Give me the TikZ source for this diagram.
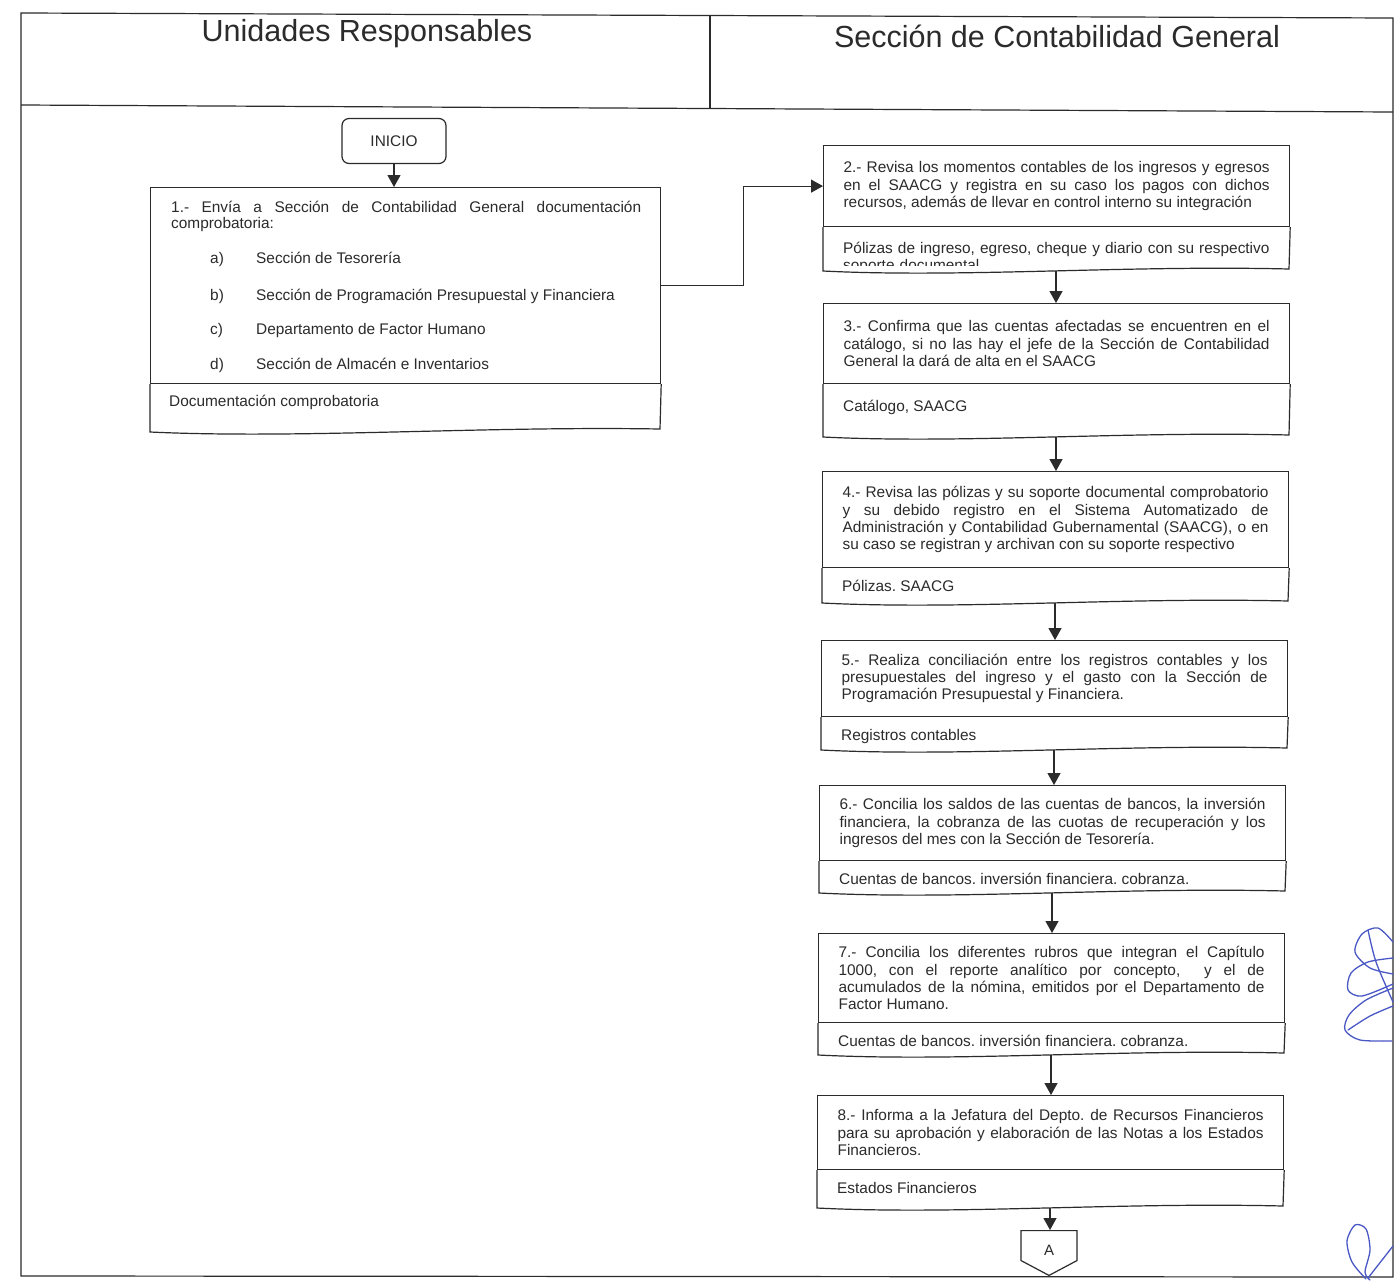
\documentclass[tikz,border=0pt]{standalone}
\usepackage{fontspec}
\setmainfont{Liberation Sans}
\usetikzlibrary{arrows.meta,shapes.symbols}
\definecolor{ink}{HTML}{2B2B2B}
\definecolor{penblue}{HTML}{4A58C6}
\newcommand\bodyfont{\fontsize{15.4}{17.3}\selectfont}
\newcommand\headfont{\fontsize{30.5}{34}\selectfont}
\frenchspacing

\tikzset{
  flowline/.style={draw=ink, line width=1.2pt},
  arrowline/.style={flowline, -{Triangle[width=13pt,length=12pt]}},
  stepbox/.style={draw=ink, line width=1.2pt, rectangle, text width=426pt,
    inner xsep=20pt, inner ysep=4pt, align=justify, font=\bodyfont, text=ink},
  doctext/.style={inner sep=0pt, font=\bodyfont, text=ink},
  headtext/.style={inner sep=0pt, font=\headfont, text=ink},
  signature/.style={draw=penblue, line width=1.3pt, line cap=round, line join=round}
}

% step box with a document-shaped lower part
% [#1] baseline offset of the document text, #2 name, #3 left x, #4 top y,
% #5 divider y, #6 bottom y, #7 step text, #8 document text
\newcommand\flowbox[8][24]{%
  \node[stepbox, minimum height={(#5-#4)*1pt}, anchor=north west] (#2) at (#3,#4) {#7};
  \node[doctext, anchor=base west] (#2d) at ({#3+20},{#5+#1}) {#8};
  \draw[flowline] (#2.south west) -- (#3,#6)
    .. controls ({#3+140},{#6+7}) and ({#3+300},{#6-6}) .. ({#3+466},{#6-2})
    -- (#2.south east);
  \coordinate (#2b) at ({#3+233},#6);
}

\begin{document}
\begin{tikzpicture}[x=1pt, y=-1pt]
\useasboundingbox (0,0) rectangle (1395,1280);
\fill[white] (0,0) rectangle (1395,1280);

% page frame and lane headers
\draw[flowline] (21,13) -- (1393,18) -- (1393,1277) -- (21,1276) -- cycle;
\draw[flowline] (21,105) -- (1393,112);
\draw[flowline] (710,15) -- (710,109);
\node[headtext, anchor=base] (lane1) at (367,41) {Unidades Responsables};
\node[headtext, anchor=base] (lane2) at (1057,47) {Sección de Contabilidad General};

% start
\node[draw=ink, line width=1.2pt, rounded corners=7pt, minimum width=104pt,
  minimum height=45pt, font=\fontsize{15.4}{18}\selectfont, text=ink] (ini) at (394,141) {INICIO};

% step 1
\node[flowline, rectangle, minimum width=510pt, minimum height=196pt,
  anchor=north west, inner sep=0pt] (s1) at (150,187) {};
\node[anchor=north west, text width=470pt, align=justify, inner sep=0pt,
  font=\fontsize{15.4}{15.5}\selectfont, text=ink] (s1t) at (171,201)
  {1.- Envía a Sección de Contabilidad General documentación\linebreak comprobatoria:};
\node[doctext, anchor=base west] (ia) at (210,263) {a)};
\node[doctext, anchor=base west] (ta) at (256,263) {Sección de Tesorería};
\node[doctext, anchor=base west] (ib) at (210,300) {b)};
\node[doctext, anchor=base west] (tb) at (256,300) {Sección de Programación Presupuestal y Financiera};
\node[doctext, anchor=base west] (ic) at (210,334) {c)};
\node[doctext, anchor=base west] (tc) at (256,334) {Departamento de Factor Humano};
\node[doctext, anchor=base west] (id) at (210,369) {d)};
\node[doctext, anchor=base west] (td) at (256,369) {Sección de Almacén e Inventarios};
\node[doctext, anchor=base west] (s1d) at (169,406) {Documentación comprobatoria};
\draw[flowline] (s1.south west) -- (150,432)
  .. controls (300,439) and (480,426) .. (660,429) -- (s1.south east);

% steps 2 to 8
\flowbox{s2}{823}{145}{226}{271}
  {2.- Revisa los momentos contables de los ingresos y egresos\linebreak
   en el SAACG y registra en su caso los pagos con dichos\linebreak
   recursos, además de llevar en control interno su integración}{}
\begin{scope}
  \clip (823,227) rectangle (1289,265);
  \node[doctext, anchor=base west, text width=440pt, align=left] (s2t) at (843,253)
    {Pólizas de ingreso, egreso, cheque y diario con su respectivo\\ soporte documental};
\end{scope}

\flowbox[28]{s3}{823}{303}{383}{437}
  {3.- Confirma que las cuentas afectadas se encuentren en el\linebreak
   catálogo, si no las hay el jefe de la Sección de Contabilidad\linebreak
   General la dará de alta en el SAACG}{Catálogo, SAACG}

\flowbox{s4}{822}{471}{567}{603}
  {4.- Revisa las pólizas y su soporte documental comprobatorio\linebreak
   y su debido registro en el Sistema Automatizado de\linebreak
   Administración y Contabilidad Gubernamental (SAACG), o en\linebreak
   su caso se registran y archivan con su soporte respectivo}{Pólizas. SAACG}

\flowbox{s5}{821}{640}{716}{750}
  {5.- Realiza conciliación entre los registros contables y los\linebreak
   presupuestales del ingreso y el gasto con la Sección de\linebreak
   Programación Presupuestal y Financiera.}{Registros contables}

\flowbox{s6}{819}{785}{860}{893}
  {6.- Concilia los saldos de las cuentas de bancos, la inversión\linebreak
   financiera, la cobranza de las cuotas de recuperación y los\linebreak
   ingresos del mes con la Sección de Tesorería.}{Cuentas de bancos. inversión financiera. cobranza.}

\flowbox{s7}{818}{933}{1022}{1055}
  {7.- Concilia los diferentes rubros que integran el Capítulo\linebreak
   1000, con el reporte analítico por concepto,\ \ y el de\linebreak
   acumulados de la nómina, emitidos por el Departamento de\linebreak
   Factor Humano.}{Cuentas de bancos. inversión financiera. cobranza.}

\flowbox{s8}{817}{1095}{1169}{1208}
  {8.- Informa a la Jefatura del Depto. de Recursos Financieros\linebreak
   para su aprobación y elaboración de las Notas a los Estados\linebreak
   Financieros.}{Estados Financieros}

% off-page connector
\node[signal, signal to=south, draw=ink, line width=1.2pt, minimum width=56pt,
  minimum height=31pt, signal pointer angle=124, inner sep=2pt,
  anchor=north] (A) at (1049,1230) {};
\node[inner sep=0pt, font=\fontsize{15}{18}\selectfont, text=ink] (Alabel)
  at ([yshift=-20pt]A.north) {A};

% connectors
\draw[arrowline] (ini.south) -- (ini.south |- s1.north);
\draw[arrowline] (s1.east) -- ++(82,0) |- (s2.west);
\draw[arrowline] (s2b) -- (s2b |- s3.north);
\draw[arrowline] (s3b) -- (s3b |- s4.north);
\draw[arrowline] (s4b) -- (s4b |- s5.north);
\draw[arrowline] (s5b) -- (s5b |- s6.north);
\draw[arrowline] (s6b) -- (s6b |- s7.north);
\draw[arrowline] (s7b) -- (s7b |- s8.north);
\draw[arrowline] (s8b) -- (s8b |- A.north);

% handwritten initials in the margin
\draw[signature] plot[smooth] coordinates {(1393,942) (1378,928) (1362,934) (1355,952) (1370,968) (1393,974)};
\draw[signature] plot[smooth] coordinates {(1393,958) (1368,962) (1351,973) (1348,990) (1362,996) (1393,984)};
\draw[signature] plot[smooth] coordinates {(1393,988) (1366,1000) (1349,1015) (1345,1030) (1360,1040) (1392,1041)};
\draw[signature] plot[smooth] coordinates {(1368,930) (1376,962) (1393,1002)};
\draw[signature] plot[smooth] coordinates {(1393,1006) (1370,1016) (1348,1030)};
\draw[signature] plot[smooth] coordinates {(1366,1279) (1352,1262) (1347,1241) (1355,1225) (1366,1229) (1370,1250) (1365,1272) (1370,1280)};
\draw[signature] (1368,1278) -- (1393,1246);
\end{tikzpicture}
\end{document}
